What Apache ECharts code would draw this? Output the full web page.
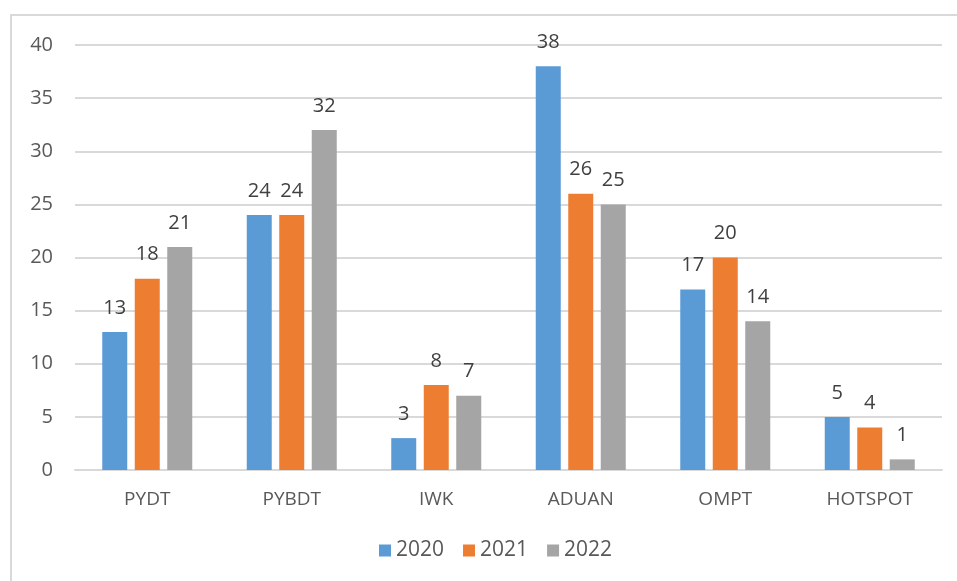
<!DOCTYPE html>
<html><head><meta charset="utf-8">
<script src="https://cdn.jsdelivr.net/npm/echarts@6/dist/echarts.min.js"></script>
<style>html,body{margin:0;padding:0;background:#fff}#c{width:957px;height:581px}</style>
</head><body><div id="c"></div>
<script>
const categories = ['PYDT','PYBDT','IWK','ADUAN','OMPT','HOTSPOT'];
const seriesNames = ['2020','2021','2022'];
const v2020 = [13,24,3,38,17,5];
const v2021 = [18,24,8,26,20,4];
const v2022 = [21,32,7,25,14,1];
const colors = ['#5b9bd5','#ed7d31','#a5a5a5'];
const FONT = '"Open Sans", "Noto Sans", sans-serif';
const chart = echarts.init(document.getElementById('c'));
const mk = (name, data, color) => ({
  name, type:'bar', data, barWidth:25, barGap:'30%',
  itemStyle:{color},
  label:{show:true, position:'top', distance:14, color:'#404040', fontSize:20, fontFamily:FONT}
});
chart.setOption({
  animation:false,
  graphic:[{type:'rect', shape:{x:11,y:15,width:1000,height:700}, style:{fill:'none', stroke:'#d9d9d9', lineWidth:2}, z:-1}],
  grid:{left:75, right:15, top:45, bottom:111},
  legend:{bottom:15, left:374, itemWidth:12, itemHeight:12, itemGap:19, icon:'rect',
    textStyle:{color:'#595959', fontSize:21, fontFamily:FONT, padding:[0,0,0,0]}, data:seriesNames},
  xAxis:{type:'category', data:categories, axisTick:{show:false},
    axisLine:{lineStyle:{color:'#d9d9d9', width:2}},
    axisLabel:{color:'#595959', fontSize:19, fontFamily:FONT, margin:20}},
  yAxis:{type:'value', min:0, max:40, interval:5,
    axisLine:{show:false}, axisTick:{show:false},
    splitLine:{lineStyle:{color:'#d9d9d9', width:2}},
    axisLabel:{color:'#595959', fontSize:20, fontFamily:FONT, margin:22}},
  series:[mk(seriesNames[0], v2020, colors[0]), mk(seriesNames[1], v2021, colors[1]), mk(seriesNames[2], v2022, colors[2])]
});
</script></body></html>
